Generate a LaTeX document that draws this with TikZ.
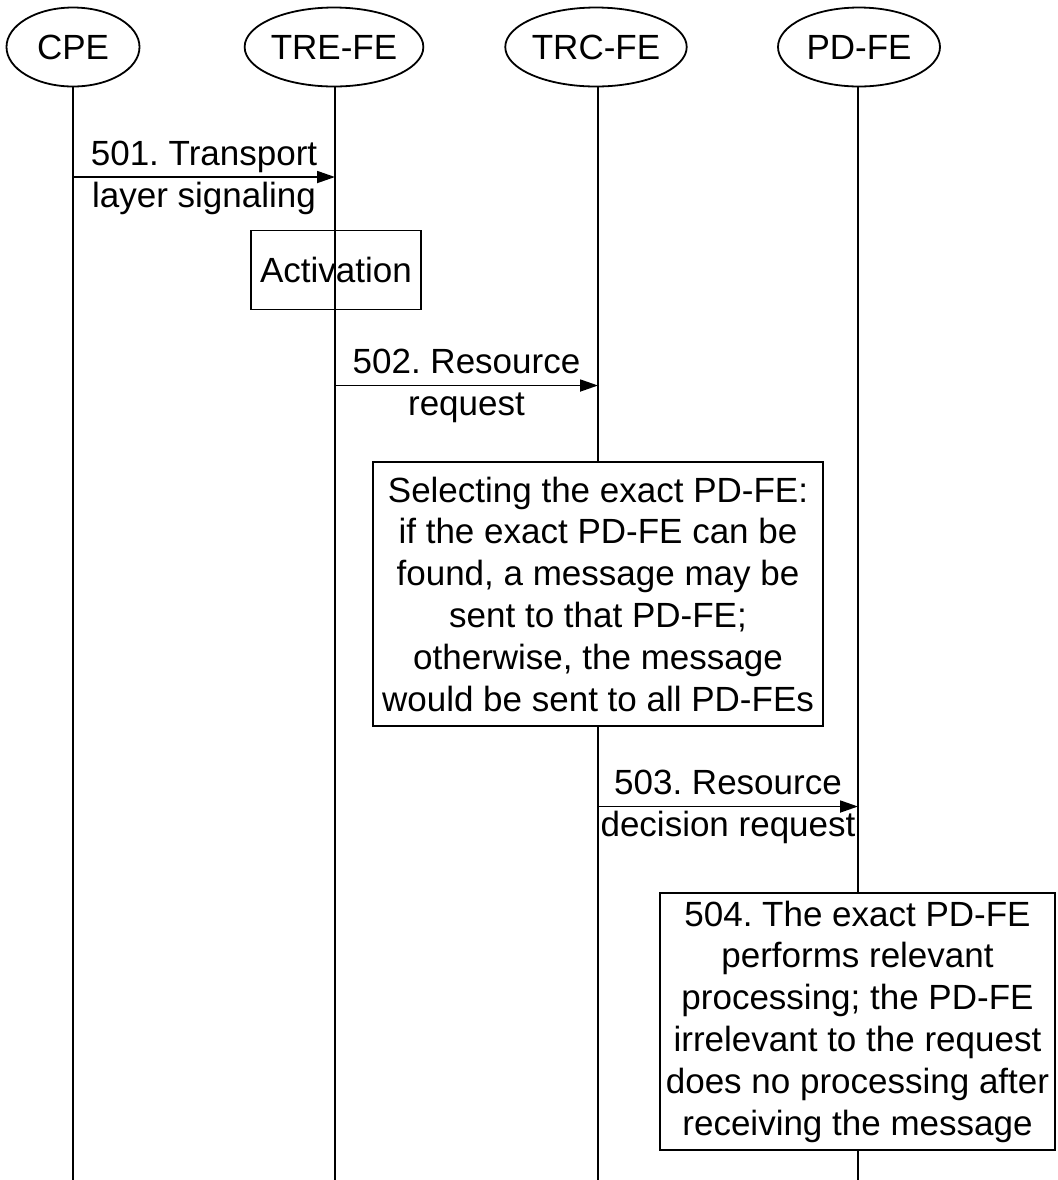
\documentclass[tikz,border=0pt]{standalone}
\usepackage{fontspec}
\setmainfont{Liberation Sans}
\usetikzlibrary{shapes.geometric, arrows.meta}
\frenchspacing

\begin{document}
\begin{tikzpicture}[x=0.5pt, y=-0.5pt, line width=0.9pt, >={Triangle[length=9pt, width=6pt]}]

  % Styles
  \tikzset{
    entity/.style={ellipse, draw, inner sep=0pt, minimum height=39.5pt, font=\fontsize{17.5}{21}\selectfont},
    msg/.style={->},
    msg text/.style={font=\fontsize{17.5}{21}\selectfont, inner sep=1.5pt, text height=13.1pt, text depth=3.85pt},
    note/.style={draw, fill=white, align=center, inner sep=0pt, font=\fontsize{17.5}{20.9}\selectfont},
    act box/.style={draw, inner sep=0pt, font=\fontsize{17.5}{21}\selectfont}
  }

  \useasboundingbox (0,0) rectangle (1057,1180);

  % --- Entities ---
  \node[entity, minimum width=66.5pt] (cpe) at (73,47) {CPE};
  \node[entity, minimum width=85pt] (tre) at (334,47) {TRE-FE};
  \node[entity, minimum width=85pt] (trc) at (596,47) {TRC-FE};
  \node[entity, minimum width=81pt] (pd) at (859,47) {PD-FE};

  % --- Lifelines ---
  \coordinate (cpe end) at (73,1180);
  \coordinate (tre end) at (335,1180);
  \coordinate (trc end) at (598,1180);
  \coordinate (pd end) at (858,1180);
  \draw (cpe.south -| cpe end) -- (cpe end);
  \draw (tre.south -| tre end) -- (tre end);
  \draw (trc.south -| trc end) -- (trc end);
  \draw (pd.south -| pd end) -- (pd end);

  % --- 501: CPE -> TRE-FE ---
  \coordinate (m501a) at (73,177);
  \coordinate (m501b) at (335,177);
  \draw[msg] (m501a) -- node[msg text, anchor=south] {501. Transport} node[msg text, anchor=north] {layer signaling} (m501b);

  % Activation
  \node[act box, minimum width=85pt, minimum height=39.5pt] (act) at (336,270) {Activation};

  % --- 502: TRE-FE -> TRC-FE ---
  \coordinate (m502a) at (335,385.5);
  \coordinate (m502b) at (598,385.5);
  \draw[msg] (m502a) -- node[msg text, anchor=south] {502. Resource} node[msg text, anchor=north] {request} (m502b);

  % Selection at TRC-FE
  \node[note, minimum width=225pt, minimum height=132pt] (select) at (598,594)
    {Selecting the exact PD-FE:\\ if the exact PD-FE can be\\ found, a message may be\\ sent to that PD-FE;\\ otherwise, the message\\ would be sent to all PD-FEs};

  % --- 503: TRC-FE -> PD-FE ---
  \coordinate (m503a) at (598,806.5);
  \coordinate (m503b) at (858,806.5);
  \draw[msg] (m503a) -- node[msg text, anchor=south] {503. Resource} node[msg text, anchor=north] {decision request} (m503b);

  % 504 at PD-FE
  \node[note, minimum width=197.5pt, minimum height=128.5pt] (proc) at (857.5,1021.5)
    {504. The exact PD-FE\\ performs relevant\\ processing; the PD-FE\\ irrelevant to the request\\ does no processing after\\ receiving the message};

\end{tikzpicture}
\end{document}
